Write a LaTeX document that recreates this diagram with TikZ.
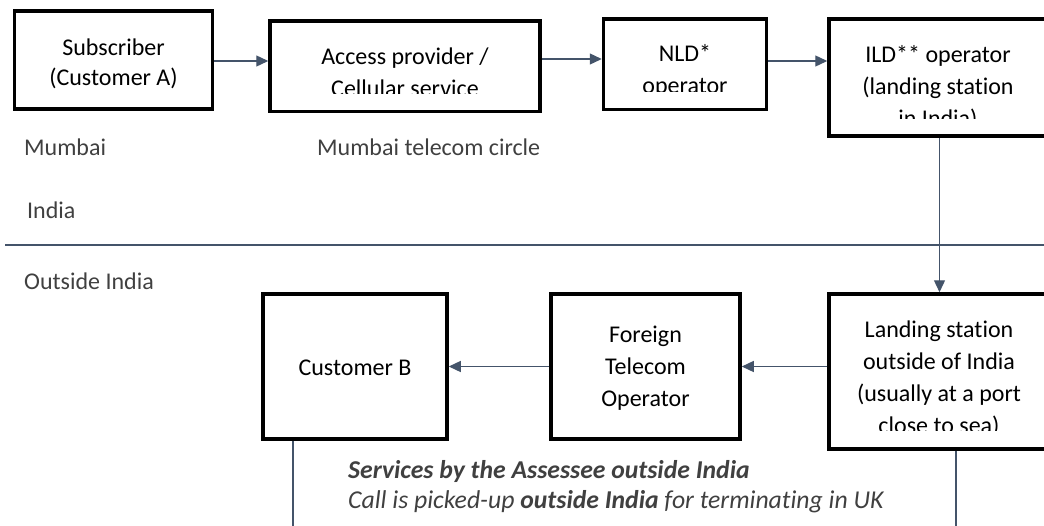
\documentclass[tikz,border=0pt]{standalone}
\usepackage{fontspec}
\setmainfont[Ligatures={NoCommon}]{Carlito}
\usetikzlibrary{arrows.meta}
\definecolor{connc}{HTML}{44546A}
\definecolor{lblc}{HTML}{404040}
\begin{document}
\begin{tikzpicture}[x=1pt,y=-1pt,
  box/.style={draw=black,line width=3.5pt,inner sep=0pt,fill=none},
  boxtext/.style={align=center,inner sep=0pt,anchor=base,text=black,font=\fontsize{24}{32}\selectfont},
  lbl/.style={inner sep=0pt,anchor=base west,text=lblc,font=\fontsize{24}{28}\selectfont},
  note/.style={inner sep=0pt,anchor=base west,text=lblc,font=\fontsize{25.7}{30}\selectfont\itshape},
  conn/.style={draw=connc,line width=1.3pt,-{Triangle[length=12pt,width=11pt]}},
  plain/.style={draw=connc,line width=1.3pt}]
\useasboundingbox (0,0) rectangle (1044,525);

% boxes
\node[box,minimum width=198pt,minimum height=98pt] (b1) at (113.5,60) {};
\node[box,minimum width=270pt,minimum height=90.5pt] (b2) at (405,66) {};
\node[box,minimum width=163pt,minimum height=90.5pt] (b3) at (685,64) {};
\node[box,minimum width=221pt,minimum height=117pt] (b4) at (939.5,77.5) {};
\node[box,minimum width=221pt,minimum height=155pt] (b5) at (939.5,371.5) {};
\node[box,minimum width=189pt,minimum height=145pt] (b6) at (645.5,366.5) {};
\node[box,minimum width=184pt,minimum height=145pt] (b7) at (355,366.5) {};

% box texts (anchor=base is the baseline of the last line)
\node[boxtext,font=\fontsize{24}{30}\selectfont] (t1) at (113.5,85) {Subscriber\\(Customer A)};
\begin{scope}
  \clip (272,23) rectangle (538,93.5);
  \node[boxtext] (t2) at (405,128.5) {Access provider /\\Cellular service\\provider};
\end{scope}
\begin{scope}
  \clip (605,20) rectangle (765,91.8);
  \node[boxtext] (t3) at (685,93.5) {NLD*\\operator};
\end{scope}
\begin{scope}
  \clip (831,21) rectangle (1044,118.3);
  \node[boxtext] (t4) at (938,126) {ILD** operator\\(landing station\\in India)};
\end{scope}
\begin{scope}
  \clip (831,296) rectangle (1044,430);
  \node[boxtext] (t5) at (939,433) {Landing station\\outside of India\\(usually at a port\\close to sea)};
\end{scope}
\node[boxtext] (t6) at (645.5,406) {Foreign\\Telecom\\Operator};
\node[boxtext] (t7) at (355,375) {Customer B};

% labels
\node[lbl] (l1) at (24,155.5) {Mumbai};
\node[lbl] (l2) at (317,155.5) {Mumbai telecom circle};
\node[lbl] (l3) at (27,218) {India};
\node[lbl] (l4) at (24,289) {Outside India};
\node[note] (n1) at (348,478) {\textbf{Services by the Assessee outside India}};
\node[note] (n2) at (348,508.5) {Call is picked-up \textbf{outside India} for terminating in UK};

% connectors
\coordinate (ya) at (0,61);
\coordinate (yb) at (0,59);
\coordinate (yc) at (0,61);
\draw[conn] (b1.east |- ya) -- (b2.west |- ya);
\draw[conn] (b2.east |- yb) -- (b3.west |- yb);
\draw[conn] (b3.east |- yc) -- (b4.west |- yc);
\draw[conn] (b4.south) -- (b5.north);
\draw[conn] (b5.west |- b6.east) -- (b6.east);
\draw[conn] (b6.west) -- (b7.east);

\coordinate (hl) at (5,245);
\coordinate (hr) at (1044,245);
\draw[plain] (hl) -- (hr);

\coordinate (v7) at (293,530);
\coordinate (v5) at (956,530);
\draw[plain] (v7 |- b7.south) -- (v7);
\draw[plain] (v5 |- b5.south) -- (v5);
\end{tikzpicture}
\end{document}
